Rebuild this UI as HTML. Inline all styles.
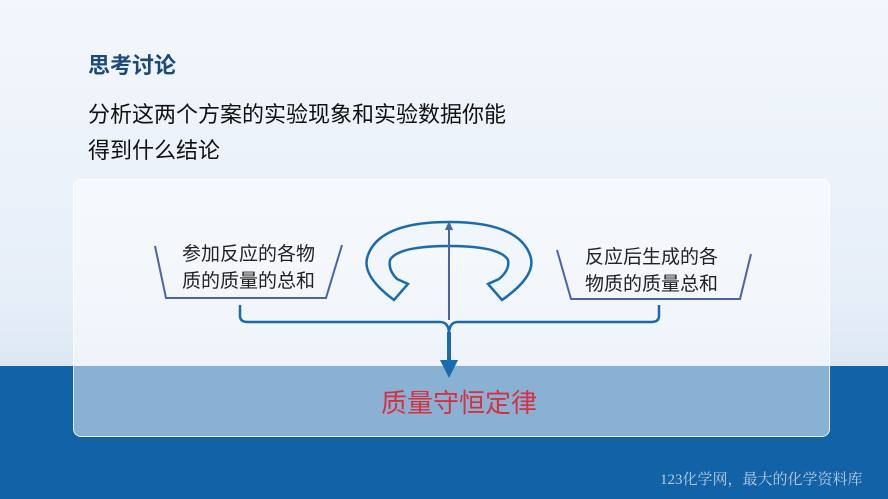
<!DOCTYPE html>
<html><head><meta charset="utf-8"><style>
body{margin:0;width:888px;height:499px;overflow:hidden;position:relative;font-family:"Liberation Sans","Noto Sans CJK SC",sans-serif;background:linear-gradient(180deg,#f3f7fc 0%,#e6eef8 60%,#dde8f4 73%);}
.band{position:absolute;left:0;top:366px;width:888px;height:133px;background:#1262a8;}
.card{position:absolute;left:73px;top:179px;width:757px;height:258px;border-radius:8px;background:rgba(255,255,255,0.5);border:1px solid rgba(255,255,255,0.8);box-sizing:border-box;}
.t{position:absolute;white-space:nowrap;}
</style></head><body>
<div class="band"></div>
<div class="card"></div>
<div class="t" style="left:88px;top:48px;font-size:22px;font-weight:bold;color:#1a4a7a;">思考讨论</div>
<div class="t" style="left:88px;top:97px;font-size:22px;color:#111;line-height:36px;">分析这两个方案的实验现象和实验数据你能<br>得到什么结论</div>
<svg width="888" height="499" style="position:absolute;left:0;top:0">
<g fill="none" stroke="#4a64a8" stroke-width="2">
<polyline points="155,246 166,298 326,298 342,245"/>
<polyline points="557,250 571,299 740,299 751,254"/>
</g>
<g fill="none" stroke="#1a6ab0" stroke-width="2.5">
<path d="M240,305 V316 Q240,322 248,322 H440 Q449,322 449,334"/>
<path d="M659,305 V316 Q659,322 651,322 H458 Q449,322 449,334"/>
</g>
<line x1="449" y1="332" x2="449" y2="362" stroke="#1a6ab0" stroke-width="4"/>
<polygon points="440,360 458,360 449,378" fill="#1a6ab0"/>
<path d="M394,300 Q360,275 368,255 Q380,222 449,222 Q518,222 530,255 Q538,275 502,300 L488,284 L499,279 Q510,270 508,260 Q500,246 449,246 Q398,246 390,260 Q388,270 397,279 L408,284 Z" fill="#f1f6fc" stroke="#1a6ab0" stroke-width="2.5" stroke-linejoin="miter"/>
<line x1="449" y1="320" x2="449" y2="228" stroke="#4a64a8" stroke-width="2"/>
<polygon points="445,230 453,230 449,221" fill="#4a64a8"/>
</svg>
<div class="t" style="left:182px;top:241px;font-size:19px;color:#222;line-height:27px;">参加反应的各物<br>质的质量的总和</div>
<div class="t" style="left:585px;top:244px;font-size:19px;color:#222;line-height:27px;">反应后生成的各<br>物质的质量总和</div>
<div class="t" style="left:381px;top:383px;font-size:26px;color:#d83040;">质量守恒定律</div>
<div class="t" style="left:660px;top:468px;font-size:15px;color:#b8cce0;font-family:'Liberation Serif','Noto Serif CJK SC',serif;">123化学网，最大的化学资料库</div>
</body></html>
